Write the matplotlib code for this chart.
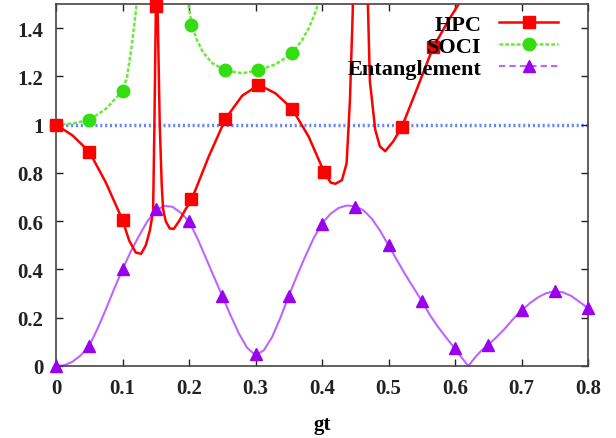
import numpy as np
import matplotlib
matplotlib.use("Agg")
import matplotlib.pyplot as plt
from matplotlib.lines import Line2D

nan = np.nan

# HPC curve, markers separate
hpc_x = [0, 0.025, 0.05, 0.075, 0.1, 0.11, 0.12, 0.128, 0.135, 0.141, 0.146, 0.148, 0.15, 0.151,
         0.153, 0.156, 0.159, 0.161, 0.165, 0.171, 0.177, 0.185, 0.195, 0.204, 0.23, 0.255, 0.28,
         0.305, 0.33, 0.355, 0.38, 0.403, 0.413, 0.42, 0.43, 0.437, 0.442, 0.446, 0.45, 0.458,
         0.465, 0.469, 0.472, 0.48, 0.487, 0.495, 0.507, 0.52, 0.543, 0.567, 0.592, 0.61, 0.62]
hpc_y = [1.0, 0.955, 0.888, 0.76, 0.605, 0.52, 0.47, 0.465, 0.5, 0.56, 0.64, 1.0, 1.45, 1.55,
         1.45, 1.0, 0.75, 0.65, 0.6, 0.57, 0.568, 0.6, 0.65, 0.69, 0.87, 1.025, 1.12,
         1.165, 1.13, 1.066, 0.95, 0.805, 0.76, 0.755, 0.77, 0.84, 1.1, 1.45, 1.9, 2.6,
         1.9, 1.5, 1.18, 0.98, 0.91, 0.89, 0.93, 0.99, 1.15, 1.32, 1.44, 1.52, 1.57]
hpc_mx = [0, 0.05, 0.1, 0.151, 0.203, 0.254, 0.304, 0.355, 0.403, 0.52, 0.567]
hpc_my = [1.0, 0.888, 0.605, 1.49, 0.69, 1.025, 1.165, 1.066, 0.805, 0.99, 1.32]

# SOCI curve
soci_x = [0, 0.025, 0.05, 0.075, 0.1, 0.107, 0.113, 0.118, 0.122, 0.126, nan,
          0.196, 0.199, 0.204, 0.212, 0.221, 0.235, 0.255, 0.28, 0.304, 0.33, 0.355,
          0.37, 0.38, 0.388, 0.394, 0.398]
soci_y = [1.0, 1.005, 1.02, 1.065, 1.14, 1.2, 1.31, 1.42, 1.52, 1.7, nan,
          1.7, 1.5, 1.415, 1.35, 1.30, 1.255, 1.225, 1.213, 1.225, 1.25, 1.295,
          1.35, 1.40, 1.45, 1.5, 1.6]
soci_mx = [0, 0.05, 0.1, 0.203, 0.254, 0.304, 0.355]
soci_my = [1.0, 1.02, 1.14, 1.415, 1.225, 1.225, 1.295]

# Entanglement curve
ent_x = [0, 0.0125, 0.025, 0.0375, 0.05, 0.0625, 0.075, 0.0875, 0.1, 0.1125, 0.125, 0.1375,
         0.15, 0.1625, 0.175, 0.1875, 0.2, 0.2125, 0.225, 0.2375, 0.25, 0.2625, 0.275, 0.2875,
         0.3, 0.3125, 0.325, 0.3375, 0.35, 0.3625, 0.375, 0.3875, 0.4, 0.4125, 0.425, 0.4375,
         0.45, 0.4625, 0.475, 0.4875, 0.5, 0.5125, 0.525, 0.5375, 0.55, 0.5625, 0.575, 0.5875,
         0.6, 0.61, 0.62, 0.63, 0.64, 0.65, 0.6625, 0.675, 0.6875, 0.7, 0.7125, 0.725, 0.7375,
         0.75, 0.7625, 0.775, 0.7875, 0.8]
ent_y = [0, 0.003, 0.018, 0.045, 0.083, 0.155, 0.235, 0.32, 0.40, 0.475, 0.54, 0.60,
         0.645, 0.663, 0.66, 0.635, 0.60, 0.53, 0.45, 0.37, 0.29, 0.21, 0.135, 0.075,
         0.045, 0.065, 0.12, 0.20, 0.29, 0.375, 0.455, 0.53, 0.59, 0.63, 0.655, 0.665,
         0.662, 0.645, 0.61, 0.56, 0.50, 0.44, 0.38, 0.325, 0.27, 0.21, 0.16, 0.115,
         0.072, 0.035, 0.0, 0.035, 0.065, 0.087, 0.12, 0.155, 0.195, 0.23, 0.26, 0.285, 0.302,
         0.31, 0.305, 0.29, 0.265, 0.24]
ent_mx = [0, 0.05, 0.1, 0.15, 0.2, 0.25, 0.3, 0.35, 0.4, 0.45, 0.5, 0.55, 0.6, 0.65, 0.7, 0.75, 0.8]
ent_my = [0, 0.083, 0.40, 0.65, 0.60, 0.29, 0.05, 0.29, 0.59, 0.66, 0.50, 0.27, 0.075, 0.087,
          0.23, 0.31, 0.24]

x_ticks = [0, 0.1, 0.2, 0.3, 0.4, 0.5, 0.6, 0.7, 0.8]
x_labels = ["0", "0.1", "0.2", "0.3", "0.4", "0.5", "0.6", "0.7", "0.8"]
y_ticks = [0, 0.2, 0.4, 0.6, 0.8, 1.0, 1.2, 1.4]
y_labels = ["0", "0.2", "0.4", "0.6", "0.8", "1", "1.2", "1.4"]

red = "#ff0000"
green_line = "#66ee33"
green_mark = "#33dd11"
purple_line = "#bb66ff"
purple_mark = "#9900ee"
blue = "#6688ff"

plt.rcParams["font.family"] = ["Liberation Serif", "DejaVu Serif"]
plt.rcParams["font.weight"] = "bold"

fig = plt.figure(figsize=(6.16, 4.39), dpi=100)
ax = fig.add_axes([56 / 616, 1 - 367 / 439, 532 / 616, 362 / 439])

ax.plot([0, 0.8], [1, 1], color=blue, lw=2.5, ls=(0, (0.6, 0.8)), zorder=1)

ax.plot(hpc_x, hpc_y, color=red, lw=1.8, zorder=3)
ax.plot(hpc_mx, hpc_my, ls="none", marker="s", ms=9, color=red, clip_on=False, zorder=4)

ax.plot(soci_x, soci_y, color=green_line, lw=1.8, ls=(0, (1.5, 0.8)), zorder=2)
ax.plot(soci_mx, soci_my, ls="none", marker="o", ms=9, color=green_mark, clip_on=False, zorder=3)

ax.plot(ent_x, ent_y, color=purple_line, lw=1.5, zorder=2)
ax.plot(ent_mx, ent_my, ls="none", marker="^", ms=8, color=purple_mark, clip_on=False, zorder=3)

ax.set_xlim(0, 0.8)
ax.set_ylim(0, 1.5)
ax.set_xticks(x_ticks)
ax.set_xticklabels(x_labels)
ax.set_yticks(y_ticks)
ax.set_yticklabels(y_labels)
ax.tick_params(direction="in", length=5, width=1, top=True, right=True,
               labelsize=15, colors="#222222", pad=9)
for s in ax.spines.values():
    s.set_color("#444444")
    s.set_linewidth(1.2)
ax.set_xlabel("gt", fontsize=15, fontweight="bold", labelpad=11)

handles = [
    Line2D([], [], color=red, lw=1.8, marker="s", ms=9),
    Line2D([], [], color=green_line, lw=1.8, ls=(0, (1.5, 0.8)), marker="o", ms=9,
           markerfacecolor=green_mark, markeredgecolor=green_mark),
    Line2D([], [], color=purple_line, lw=1.5, ls=(0, (3, 2)), marker="^", ms=8,
           markerfacecolor=purple_mark, markeredgecolor=purple_mark),
]
leg = ax.legend(handles, ["HPC", "SOCI", "Entanglement"], loc="upper right",
                bbox_to_anchor=(0.961, 0.995), frameon=False, markerfirst=False,
                fontsize=16, handlelength=2.65, handletextpad=0.8, labelspacing=0.06,
                borderaxespad=0)
for t in leg.get_texts():
    t.set_fontweight("bold")

fig.savefig("out.png", dpi=100)
